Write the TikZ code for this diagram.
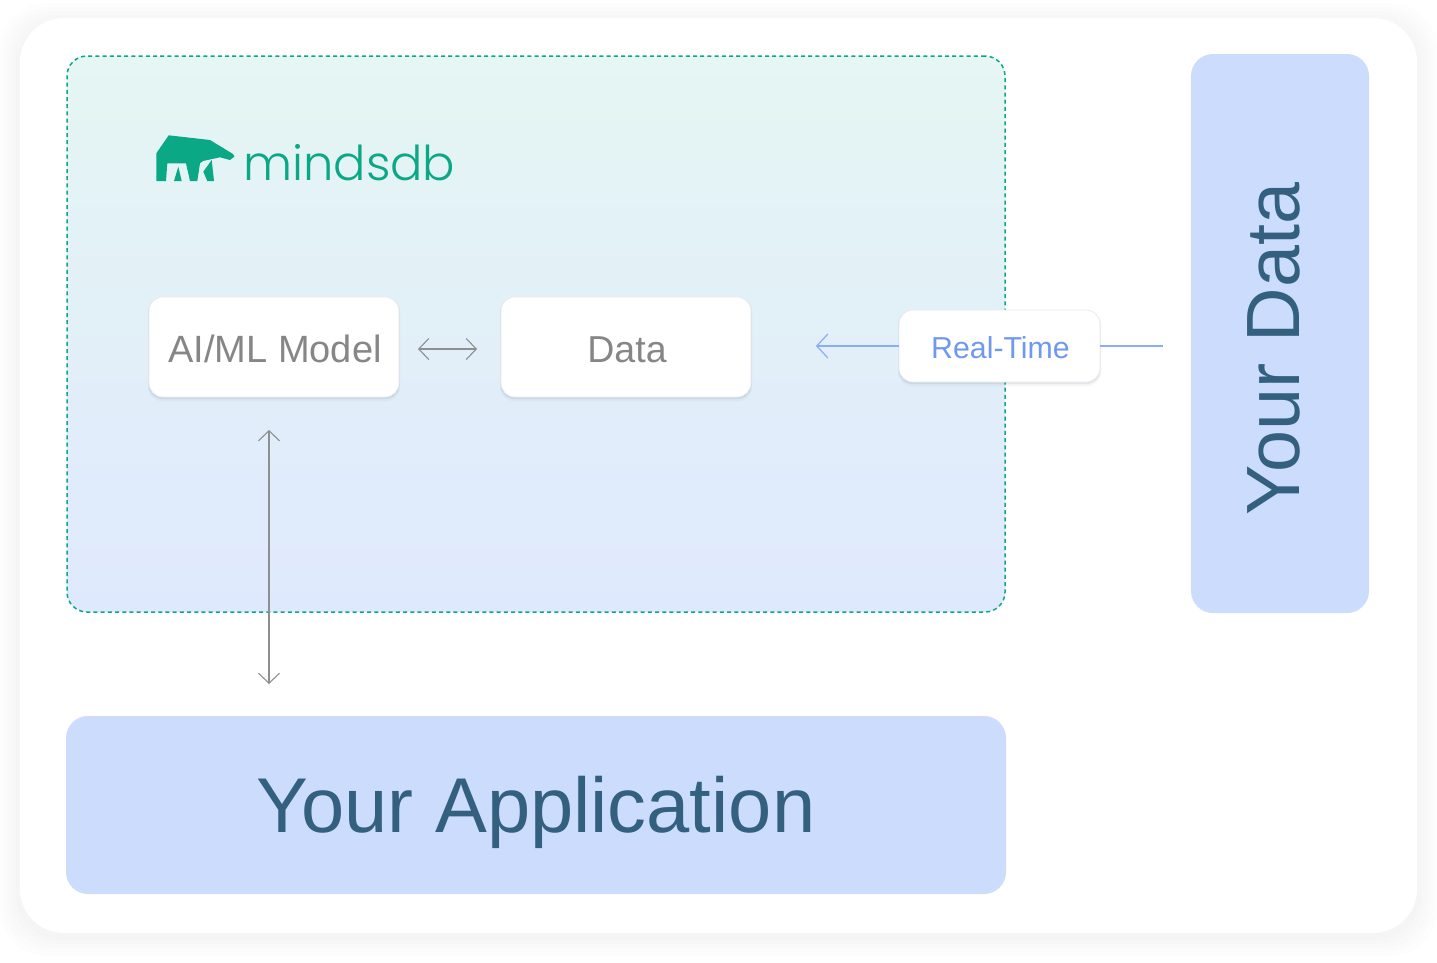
\documentclass[tikz,border=0pt]{standalone}
\usepackage{fontspec}
\setmainfont{Liberation Sans}
\newfontfamily\logofont[UprightFont=*-Light]{Poppins}
\usetikzlibrary{arrows.meta}
\definecolor{teal}{HTML}{0BA886}
\definecolor{paneltop}{HTML}{E5F6F3}
\definecolor{panelbot}{HTML}{DFE9FD}
\definecolor{bluebox}{HTML}{CCDCFD}
\definecolor{navytext}{HTML}{34607F}
\definecolor{greytext}{HTML}{868686}
\definecolor{bluetext}{HTML}{6F99EE}
\definecolor{blueline}{HTML}{8AAEF5}
\definecolor{greyline}{HTML}{8F8F8F}
\definecolor{shadowc}{HTML}{8090A0}
\tikzset{
  whitebox/.style={fill=white,draw=black!8,line width=.6pt,rounded corners=14pt,inner sep=0pt,outer sep=0pt},
  filledbox/.style={fill=bluebox,rounded corners=22pt,inner sep=0pt,outer sep=0pt},
  greyarrow/.style={draw=greyline,line width=1.1pt,{Straight Barb[length=10pt,width=21pt,line width=1.1pt]}-{Straight Barb[length=10pt,width=21pt,line width=1.1pt]}},
  bluearrow/.style={draw=blueline,line width=1.2pt},
  softshadow/.style={fill=shadowc,rounded corners=14pt,draw=none}
}
\begin{document}
\begin{tikzpicture}[x=1pt,y=-1pt]
\useasboundingbox (0,0) rectangle (1437,962);
\fill[white] (0,0) rectangle (1437,962);
% card soft edge
\foreach \g/\o in {20/.006,16/.006,12/.007,8/.008,4/.009}{
  \fill[black,opacity=\o,rounded corners=46pt] (20-\g,18-\g+5) rectangle (1417+\g,933+\g+3);
}
\fill[white,rounded corners=44pt] (20,18) rectangle (1417,933);
% panel
\node[name=panel,anchor=north west,minimum width=938pt,minimum height=556pt,inner sep=0pt,outer sep=0pt,
  rounded corners=20pt,top color=paneltop,bottom color=panelbot,draw=teal,line width=1.5pt,dash pattern=on 4pt off 3.2pt] at (67,56) {};
% logo
\fill[teal] (156.3,153.3) -- (168.7,135.3) -- (210,140) -- (233,154) -- (234.5,156.5) -- (230,160) -- (220,157.3) -- (203,161) -- (200,163.3)
  -- (197.3,181) -- (190,181) -- (186,163.3) -- (167.3,163.3) -- (166,181) -- (156.3,181) -- cycle;
\fill[teal] (178.3,166.7) -- (181.7,181) -- (174,181) -- cycle;
\fill[teal] (211.7,160) -- (214,181) -- (207.3,181) -- (203.3,171.7) -- cycle;
\node[name=logotext,anchor=base west,inner sep=0pt,text=teal,font=\logofont\fontsize{48}{50}\selectfont] at (243,180.5) {mindsdb};
% shadows of white boxes
\foreach \a/\b/\c/\d in {149/297/399/397,501/297/751/397,899/310/1100/382}{
  \fill[softshadow,opacity=.08] (\a-1,\b+1) rectangle (\c+1,\d+4);
  \fill[softshadow,opacity=.16] (\a-.5,\b) rectangle (\c+.5,\d+2);
}
% white boxes
\node[whitebox,name=model,anchor=north west,minimum width=250pt,minimum height=100pt] at (149,297) {};
\node[text=greytext,font=\fontsize{38}{40}\selectfont,name=modeltext] at (275,349) {AI/ML Model};
\node[whitebox,name=data,anchor=north west,minimum width=250pt,minimum height=100pt] at (501,297) {};
\node[text=greytext,font=\fontsize{37.5}{40}\selectfont,name=datatext] at (627,349.5) {Data};
\node[whitebox,name=realtime,anchor=north west,minimum width=201pt,minimum height=72pt] at (899,310) {};
\node[text=bluetext,font=\fontsize{30.3}{32}\selectfont,name=realtext] at (1000.5,347.5) {Real-Time};
% blue boxes
\node[filledbox,name=app,anchor=north west,minimum width=940pt,minimum height=178pt] at (66,716) {};
\node[text=navytext,font=\fontsize{77.7}{80}\selectfont,name=apptext] at (536,812) {Your Application};
\node[filledbox,name=yourdata,anchor=north west,minimum width=178pt,minimum height=559pt] at (1191,54) {};
\node[text=navytext,font=\fontsize{75.5}{80}\selectfont,rotate=90,name=datalabel] at (1273.5,349) {Your Data};
% connectors
\draw[greyarrow,shorten <=19pt,shorten >=24pt] ([yshift=-2pt]model.east) -- ([yshift=-2pt]data.west);
\coordinate (vtop) at (269,430);
\coordinate (vbot) at (269,684);
\draw[greyarrow] (vtop) -- (vbot);
\coordinate (rtleft) at (816,346);
\coordinate (rtright) at (1163,346);
\draw[bluearrow,-{Straight Barb[length=11pt,width=24pt,line width=1.2pt]}] (realtime.west |- rtleft) -- (rtleft);
\draw[bluearrow] (realtime.east |- rtright) -- (rtright);
\end{tikzpicture}
\end{document}
